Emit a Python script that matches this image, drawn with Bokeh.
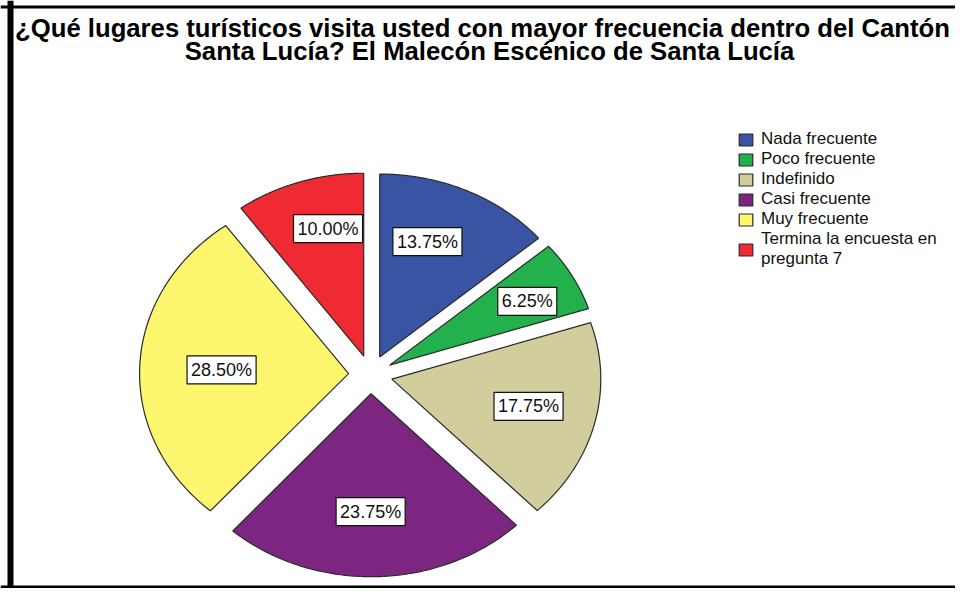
import numpy as np
from bokeh.plotting import figure
from bokeh.models import ColumnDataSource, Label, Legend, LegendItem, Range1d, Span
from bokeh.embed import file_html
from bokeh.resources import INLINE

# ---- data ----
categories = ["Nada frecuente", "Poco frecuente", "Indefinido", "Casi frecuente",
              "Muy frecuente", "Termina la encuesta en\npregunta 7"]
percents = [13.75, 6.25, 17.75, 23.75, 28.50, 10.00]
labels = ["13.75%", "6.25%", "17.75%", "23.75%", "28.50%", "10.00%"]
colors = ["#3a54a4", "#22b14c", "#d2cd9c", "#7c2681", "#fcf76f", "#ef2a33"]
title_lines = ["¿Qué lugares turísticos visita usted con mayor frecuencia dentro del Cantón",
               "Santa Lucía? El Malecón Escénico de Santa Lucía"]

# ---- layout constants ----
W, H = 955, 588
CX, CY = 370, 374          # pie centre in canvas pixels (from top-left)
RX, RY = 209, 183          # pixel size of one data unit in x / y
EXPLODE = 0.105
LABEL_R = [0.776, 0.85, 0.776, 0.749, 0.713, 0.823]   # label distance per slice
LABEL_DA = [4.2, -1.2, 1.0, -1.3, 0.7, -3.7]          # label angle tweak (deg)

p = figure(width=W, height=H, output_backend="svg", toolbar_location=None,
           x_range=Range1d(-CX / RX, (W - CX) / RX),
           y_range=Range1d(-(H - CY) / RY, CY / RY),
           min_border=0)
p.axis.visible = False
p.grid.visible = False
p.outline_line_color = None
p.background_fill_color = "white"
p.border_fill_color = "white"

# ---- slices ----
fr = np.array(percents) / 100.0
ends = np.pi / 2 - 2 * np.pi * np.cumsum(fr)
starts = ends + 2 * np.pi * fr
xs, ys, mids = [], [], []
for s, e in zip(starts, ends):
    mid = (s + e) / 2
    ox, oy = EXPLODE * np.cos(mid), EXPLODE * np.sin(mid)
    t = np.linspace(s, e, 120)
    xs.append(list(np.concatenate([[ox], ox + np.cos(t), [ox]])))
    ys.append(list(np.concatenate([[oy], oy + np.sin(t), [oy]])))
    mids.append(mid)

src = ColumnDataSource(dict(xs=xs, ys=ys, color=colors, cat=categories))
r = p.patches("xs", "ys", source=src, fill_color="color", line_color="#2a2a2a",
              line_width=1.2)

# ---- value labels ----
for lab, mid, rr, da in zip(labels, mids, LABEL_R, LABEL_DA):
    a = mid + np.deg2rad(da)
    p.add_layout(Label(x=rr * np.cos(a), y=rr * np.sin(a), text=lab,
                       text_align="center", text_baseline="middle",
                       text_font="Liberation Sans", text_font_size="18px",
                       text_color="#111111",
                       background_fill_color="white", border_line_color="#111111",
                       border_line_width=1.2, padding=4))

# ---- title ----
p.add_layout(Label(x=482, y=H - 27, x_units="screen", y_units="screen",
                   text=title_lines[0], text_align="center", text_baseline="middle",
                   text_font="Liberation Sans", text_font_style="bold",
                   text_font_size="25.7px", text_color="black"))
p.add_layout(Label(x=489, y=H - 50, x_units="screen", y_units="screen",
                   text=title_lines[1], text_align="center", text_baseline="middle",
                   text_font="Liberation Sans", text_font_style="bold",
                   text_font_size="25.7px", text_color="black"))

# ---- frame border (pixel positions converted to data units) ----
p.add_layout(Span(location=(10 - CX) / RX, dimension="height",
                  line_color="black", line_width=6))
p.add_layout(Span(location=(CY - 6.5) / RY, dimension="width",
                  line_color="black", line_width=3))
p.add_layout(Span(location=-(H - 1.5 - CY) / RY, dimension="width",
                  line_color="black", line_width=3))

# ---- legend ----
items = [LegendItem(label=c, renderers=[r], index=i) for i, c in enumerate(categories)]
legend = Legend(items=items, location=(737, 319), padding=0, spacing=0,
                glyph_width=17, glyph_height=15, label_height=20,
                label_standoff=7, label_text_font="Liberation Sans",
                label_text_font_size="17px", label_text_color="#111111",
                border_line_color=None, background_fill_alpha=0)
p.add_layout(legend, "center")

open("out.html", "w").write(file_html(p, INLINE))
